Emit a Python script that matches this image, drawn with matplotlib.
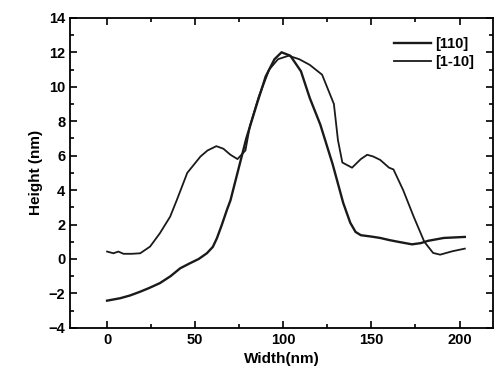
import matplotlib.pyplot as plt
from matplotlib.ticker import MultipleLocator

plt.rcParams['font.family'] = ['Liberation Sans', 'DejaVu Sans']
plt.rcParams['font.weight'] = 'bold'

# [110] profile
x_110 = [0, 7.4, 13, 18.8, 24, 30, 36, 41.5, 47, 52, 56.6, 60, 62.3, 65, 68, 70,
         74, 79, 85, 90, 95, 99, 104, 110, 115, 121, 128, 134, 138, 141, 144,
         150, 155, 160, 165, 173, 178, 182, 191, 203]
h_110 = [-2.42, -2.28, -2.12, -1.9, -1.68, -1.4, -1.0, -0.54, -0.25, 0.0, 0.33,
         0.7, 1.2, 1.95, 2.85, 3.4, 5.0, 7.0, 9.0, 10.6, 11.6, 12.0, 11.8, 10.9,
         9.35, 7.8, 5.5, 3.25, 2.1, 1.57, 1.38, 1.3, 1.22, 1.1, 1.0, 0.85, 0.92,
         1.05, 1.22, 1.28]

# [1-10] profile
x_1m10 = [0, 3.6, 6.4, 9.3, 14, 18.8, 24.4, 30, 35.8, 39.6, 45.5, 53, 57, 62, 66,
          70, 74, 78.5, 81, 86, 92, 97, 103, 109, 115, 122, 128.7, 131, 133.5,
          139, 144, 147.6, 151, 155, 160, 162.5, 168, 174, 180, 185, 189, 196, 203]
h_1m10 = [0.43, 0.33, 0.43, 0.3, 0.3, 0.33, 0.72, 1.5, 2.46, 3.43, 5.0, 5.95, 6.3,
          6.55, 6.4, 6.05, 5.8, 6.3, 7.7, 9.4, 11.0, 11.6, 11.8, 11.6, 11.27,
          10.7, 9.0, 6.9, 5.6, 5.3, 5.8, 6.05, 5.95, 5.75, 5.3, 5.2, 4.0, 2.45,
          1.0, 0.35, 0.25, 0.45, 0.6]

fig = plt.figure(figsize=(4.97, 3.88), dpi=100)
ax = fig.add_axes([0.141, 0.155, 0.851, 0.799])

ax.plot(x_110, h_110, color='#1a1a1a', lw=1.7, label='[110]')
ax.plot(x_1m10, h_1m10, color='#1a1a1a', lw=1.3, label='[1-10]')

ax.set_xlim(-21, 219)
ax.set_ylim(-4, 14)
ax.xaxis.set_major_locator(MultipleLocator(50))
ax.xaxis.set_minor_locator(MultipleLocator(25))
ax.yaxis.set_major_locator(MultipleLocator(2))
ax.yaxis.set_minor_locator(MultipleLocator(1))
ax.tick_params(which='both', direction='in', top=True, right=True, width=1.2,
               labelsize=10.5)
ax.tick_params(which='major', length=5)
ax.tick_params(which='minor', length=3)
for s in ax.spines.values():
    s.set_linewidth(1.3)

ax.set_xlabel('Width(nm)', fontsize=11, fontweight='bold')
ax.set_ylabel('Height (nm)', fontsize=11, fontweight='bold')

ax.legend(loc='upper right', frameon=False, fontsize=10.5, handlelength=2.5,
          handletextpad=0.3, borderaxespad=0.9, labelspacing=0.3)

fig.savefig('out.png', dpi=100)
